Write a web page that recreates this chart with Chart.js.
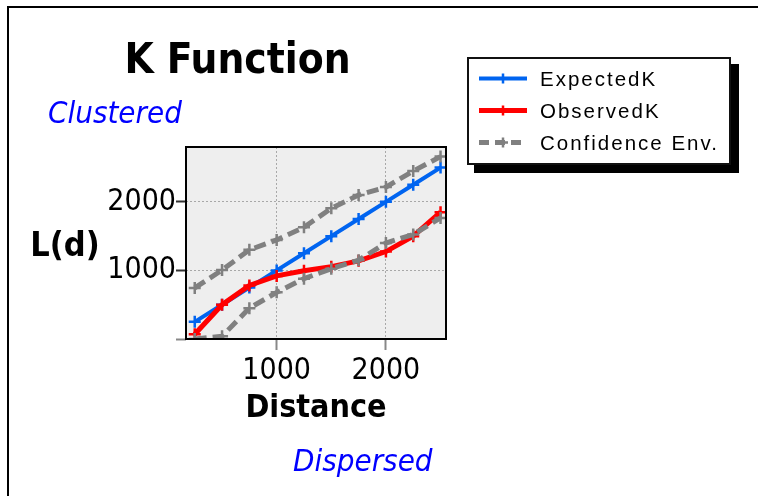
<!DOCTYPE html>
<html><head><meta charset="utf-8">
<script src="https://cdn.jsdelivr.net/npm/chart.js@4"></script>
<style>html,body{margin:0;padding:0;background:#fff;overflow:hidden}canvas{display:block}</style>
</head><body>
<canvas id="c" width="758" height="496"></canvas>
<script>
const distances = [250,500,750,1000,1250,1500,1750,2000,2250,2500];
const expectedK = [250,500,750,1000,1250,1500,1750,2000,2250,2500];
const observedK = [70,500,780,920,995,1055,1140,1275,1500,1850];
const confUpper = [745,1005,1300,1445,1630,1905,2100,2215,2450,2660];
const confLower = [0,40,450,680,880,1025,1150,1400,1525,1765];
const xTicks = [1000,2000];
const yTicks = [0,1000,2000];
const seriesLabels = ['ExpectedK','ObservedK','Confidence Env.'];
const chartTitle = 'K Function';
const xTitle = 'Distance';
const yTitle = 'L(d)';
const topNote = 'Clustered';
const bottomNote = 'Dispersed';

const COND = "'DejaVu Sans Condensed', 'DejaVu Sans', sans-serif";
const BLUE = 'rgb(0,100,240)';
const RED = 'rgb(255,0,0)';
const GRAY = 'rgb(128,128,128)';

const pts = arr => distances.map((d,i) => ({x:d, y:arr[i]}));

const common = {pointStyle:'cross', pointRadius:6, pointHoverRadius:6, pointBorderWidth:2.5, fill:false, tension:0};
const datasets = [
  Object.assign({label:seriesLabels[0], data:pts(expectedK), borderColor:BLUE, backgroundColor:BLUE, borderWidth:4, order:2}, common),
  Object.assign({label:seriesLabels[1], data:pts(observedK), borderColor:RED, backgroundColor:RED, borderWidth:5, order:1}, common),
  Object.assign({label:seriesLabels[2], data:pts(confUpper), borderColor:GRAY, backgroundColor:GRAY, borderWidth:5, borderDash:[12,6], order:0}, common),
  Object.assign({label:seriesLabels[2], data:pts(confLower), borderColor:GRAY, backgroundColor:GRAY, borderWidth:5, borderDash:[12,6], order:0}, common)
];

function crossAt(ctx, x, y, r, color){
  ctx.save(); ctx.strokeStyle=color; ctx.lineWidth=2.5; ctx.setLineDash([]);
  ctx.beginPath(); ctx.moveTo(x-r,y); ctx.lineTo(x+r,y); ctx.moveTo(x,y-r); ctx.lineTo(x,y+r); ctx.stroke();
  ctx.restore();
}

const deco = {
  id:'deco',
  beforeDraw(chart){
    const {ctx, chartArea:a} = chart;
    ctx.save();
    ctx.fillStyle='#fff'; ctx.fillRect(0,0,chart.width,chart.height);
    ctx.fillStyle='#eeeeee'; ctx.fillRect(a.left,a.top,a.right-a.left,a.bottom-a.top);
    ctx.restore();
  },
  afterDatasetsDraw(chart){
    const {ctx, chartArea:a} = chart;
    ctx.save();
    ctx.strokeStyle='#000'; ctx.lineWidth=2;
    ctx.strokeRect(a.left, a.top, a.right-a.left, a.bottom-a.top);
    ctx.restore();
  },
  afterDraw(chart){
    const ctx = chart.ctx;
    ctx.save();
    ctx.fillStyle='#000';
    ctx.fillRect(7,6,751,2);
    ctx.fillRect(7,6,2,490);
    ctx.fillStyle='#000'; ctx.textAlign='center'; ctx.textBaseline='alphabetic';
    ctx.font = "bold 42px " + COND;
    ctx.fillText(chartTitle, 237.5, 72.5);
    ctx.font = "bold 34px " + COND;
    ctx.fillText(yTitle, 65, 256);
    ctx.fillStyle='#0000ff'; ctx.textAlign='left';
    ctx.font = "italic 31px " + COND;
    ctx.fillText(topNote, 48, 123);
    ctx.fillText(bottomNote, 293, 470.5);
    ctx.fillStyle='#000'; ctx.fillRect(474,64,265,109);
    ctx.fillStyle='#fff'; ctx.fillRect(467,57,264,108);
    ctx.strokeStyle='#111'; ctx.lineWidth=2; ctx.strokeRect(468,58,262,106);
    const rows = [
      {ds: chart.data.datasets[0], base: 86},
      {ds: chart.data.datasets[1], base: 118},
      {ds: chart.data.datasets[2], base: 150}
    ];
    ctx.font = "20.5px 'Liberation Sans', Arial, sans-serif";
    if ('letterSpacing' in ctx) ctx.letterSpacing = '2px';
    rows.forEach(r => {
      const ly = r.base - 7.5;
      ctx.save();
      ctx.strokeStyle = r.ds.borderColor; ctx.lineWidth = r.ds.borderWidth;
      ctx.setLineDash(r.ds.borderDash ? [10,6] : []);
      ctx.beginPath(); ctx.moveTo(479, ly); ctx.lineTo(527, ly); ctx.stroke();
      ctx.restore();
      crossAt(ctx, 503, ly, 5, r.ds.borderColor);
      ctx.fillStyle='#000'; ctx.textAlign='left';
      ctx.fillText(r.ds.label, 540, r.base);
    });
    ctx.restore();
  }
};

new Chart(document.getElementById('c'), {
  type:'line',
  data:{datasets},
  options:{
    responsive:false, animation:false, devicePixelRatio:1,
    layout:{padding:{left:0, top:147, right:312, bottom:0}},
    plugins:{legend:{display:false}, title:{display:false}, tooltip:{enabled:false}},
    scales:{
      x:{type:'linear', min:170, max:2550,
        afterBuildTicks: s => { s.ticks = xTicks.map(v => ({value:v})); },
        afterFit: s => { s.height = 157; },
        grid:{color:'#a8a8a8', lineWidth:1, tickColor:'#888', tickWidth:2, tickLength:11},
        border:{display:false, dash:[2,2]},
        ticks:{font:{family:COND, size:30, lineHeight:1.1}, color:'#000', padding:5, maxRotation:0, autoSkip:false,
          callback: v => String(v)},
        title:{display:true, text:xTitle, color:'#000', font:{family:COND, size:32, weight:'bold'}, padding:{top:0, bottom:68}}
      },
      y:{type:'linear', min:0, max:2800,
        afterBuildTicks: s => { s.ticks = yTicks.map(v => ({value:v})); },
        afterFit: s => { s.width = 186; },
        grid:{color:'#a8a8a8', lineWidth:1, tickColor: c => (c.tick && c.tick.value === 0) ? '#888' : '#333', tickWidth:2, tickLength:10},
        border:{display:false, dash:[2,2]},
        ticks:{font:{family:COND, size:30}, color:'#000', padding:0,
          callback: v => v === 0 ? '' : String(v)}
      }
    }
  },
  plugins:[deco]
});
</script>
</body></html>
